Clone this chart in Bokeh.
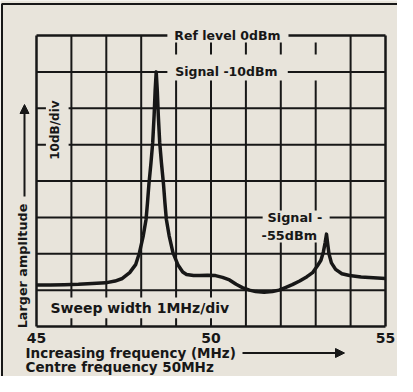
import numpy as np
from bokeh.plotting import figure
from bokeh.models import Range1d, Arrow, NormalHead
from bokeh.core.properties import value
from bokeh.embed import file_html
from bokeh.resources import INLINE

# ---------------- data ----------------
freq_mhz = [45.00, 45.40, 45.80, 46.20, 46.60, 46.98, 47.25, 47.46, 47.67, 47.84,
            47.95, 48.06, 48.14, 48.18, 48.22, 48.28, 48.33, 48.37, 48.40, 48.43,
            48.46, 48.49, 48.53, 48.58, 48.64, 48.68, 48.72, 48.80, 48.91, 49.05,
            49.19, 49.30, 49.50, 49.67, 49.90, 50.13, 50.33, 50.53, 50.72, 50.90,
            51.10, 51.28, 51.52, 51.76, 51.95, 52.13, 52.33, 52.54, 52.75, 52.91,
            53.05, 53.15, 53.22, 53.27, 53.31, 53.34, 53.38, 53.45, 53.57, 53.75,
            53.97, 54.30, 54.65, 55.00]
level_dbm = [-68.6, -68.6, -68.5, -68.4, -68.2, -68.0, -67.5, -66.8, -65.2, -63.0,
             -59.7, -55.0, -50.5, -46.0, -41.0, -35.0, -29.4, -22.0, -15.0, -10.0,
             -15.0, -22.0, -29.4, -35.0, -41.0, -46.0, -50.5, -55.0, -59.7, -63.0,
             -65.0, -65.7, -66.0, -66.0, -65.9, -66.0, -66.5, -67.2, -68.4, -69.3,
             -70.0, -70.4, -70.6, -70.4, -70.0, -69.3, -68.5, -67.5, -66.3, -65.2,
             -63.3, -61.8, -59.5, -57.0, -54.6, -57.0, -60.0, -62.5, -64.3, -65.5,
             -66.0, -66.4, -66.6, -66.8]
x_tick_values = [45, 50, 55]
x_tick_labels = ["45", "50", "55"]
f_start, f_stop = 45, 55
ref_level_dbm, bottom_dbm = 0, -80
mhz_per_div, db_per_div = 1, 10

# ---------------- layout ----------------
W, H = 397, 376
LEFT, RIGHT, TOP, BOTTOM = 36, 12, 35, 50
PX_MHZ = (W - LEFT - RIGHT) / (f_stop - f_start)
PX_DB = (H - TOP - BOTTOM) / (ref_level_dbm - bottom_dbm)
INK = "#171717"
BG = "#e8e4db"
FONT = value("DejaVu Sans")

def fx(px):   # figure-x pixel to MHz
    return f_start + (px - LEFT) / PX_MHZ

def fy(py):   # figure-y pixel to dB
    return ref_level_dbm - (py - TOP) / PX_DB

p = figure(width=W, height=H, output_backend="svg", toolbar_location=None,
           x_range=Range1d(fx(0), fx(W)), y_range=Range1d(fy(H), fy(0)),
           x_axis_location=None, y_axis_location=None,
           min_border=0, outline_line_color=None,
           background_fill_color=BG, border_fill_color=BG)
p.xgrid.visible = False
p.ygrid.visible = False

# outer paper frame
p.segment(x0=[fx(1), fx(1.5)], y0=[fy(3.5), fy(3.5)], x1=[fx(W), fx(1.5)], y1=[fy(3.5), fy(H)],
          line_color=INK, line_width=2)

# ---------------- graticule ----------------
vx0, vy0, vx1, vy1 = [], [], [], []
def vseg(f, a, b):
    vx0.append(f); vx1.append(f); vy0.append(a); vy1.append(b)
hx0, hy0, hx1, hy1 = [], [], [], []
def hseg(a, b, d):
    hx0.append(a); hx1.append(b); hy0.append(d); hy1.append(d)

for f in np.arange(f_start + mhz_per_div, f_stop, mhz_per_div):
    if f <= 48:
        vseg(f, 0, -70); vseg(f, -70, -72); vseg(f, -77.7, -80)
    elif f <= 50:
        vseg(f, -1.9, -5.2); vseg(f, -12.4, -70); vseg(f, -70, -72); vseg(f, -77.7, -80)
    elif f == 51:
        vseg(f, -1.9, -5.2); vseg(f, -12.4, -80)
    elif f <= 53:
        vseg(f, -1.9, -5.2); vseg(f, -12.4, -48.1); vseg(f, -56.9, -80)
    else:
        vseg(f, 0, -80)

for d in np.arange(ref_level_dbm - db_per_div, bottom_dbm, -db_per_div):
    if d == -10:
        hseg(f_start, 48.75, d); hseg(52.2, f_stop, d)
    elif d in (-20, -30):
        hseg(f_start, 45.27, d); hseg(45.92, f_stop, d)
    elif d == -50:
        hseg(f_start, 51.48, d); hseg(53.4, f_stop, d)
    else:
        hseg(f_start, f_stop, d)

p.segment(x0=vx0, y0=vy0, x1=vx1, y1=vy1, line_color=INK, line_width=2)
p.segment(x0=hx0, y0=hy0, x1=hx1, y1=hy1, line_color=INK, line_width=2)
# graticule border
p.segment(x0=[f_start, 52.22, f_start, f_stop, f_start],
          y0=[ref_level_dbm, ref_level_dbm, ref_level_dbm, ref_level_dbm, bottom_dbm],
          x1=[48.75, f_stop, f_start, f_stop, f_stop],
          y1=[ref_level_dbm, ref_level_dbm, bottom_dbm, bottom_dbm, bottom_dbm],
          line_color=INK, line_width=2.5)

# ---------------- trace ----------------
p.line(freq_mhz, level_dbm, line_color=INK, line_width=3.5, line_join="round")

# ---------------- texts ----------------
def txt(x, y, t, size, align="left", angle=0.0):
    p.text(x=[x], y=[y], text=[t], text_font=FONT, text_font_style="bold",
           text_font_size=size, text_color=INK, text_align=align,
           text_baseline="middle", angle=angle)

txt(50.47, ref_level_dbm, "Ref level 0dBm", "12.5px", "center")
txt(50.44, -10, "Signal -10dBm", "12.5px", "center")
txt(51.62, -50, "Signal -", "12.8px")
txt(51.45, -55, "-55dBm", "12.8px")
txt(45.54, -26, "10dB/div", "12px", "center", np.pi / 2)
txt(45.40, -74.8, "Sweep width 1MHz/div", "14px")
txt(fx(22), fy(265.5), "Larger amplitude", "12.8px", "center", np.pi / 2)

p.text(x=x_tick_values, y=[fy(337)] * 3, text=x_tick_labels, text_font=FONT,
       text_font_style="bold", text_font_size="14px", text_color=INK,
       text_align="center", text_baseline="middle")

txt(fx(25), fy(352.5), "Increasing frequency (MHz)", "13.5px")
txt(fx(25), fy(366.5), "Centre frequency 50MHz", "13.5px")

# arrows
p.add_layout(Arrow(end=NormalHead(size=9, fill_color=INK, line_color=INK),
                   x_start=fx(24), y_start=fy(196), x_end=fx(24), y_end=fy(104),
                   line_color=INK, line_width=2))
p.add_layout(Arrow(end=NormalHead(size=9, fill_color=INK, line_color=INK),
                   x_start=fx(242), y_start=fy(352.5), x_end=fx(344), y_end=fy(352.5),
                   line_color=INK, line_width=2))

open("out.html", "w").write(file_html(p, INLINE))
